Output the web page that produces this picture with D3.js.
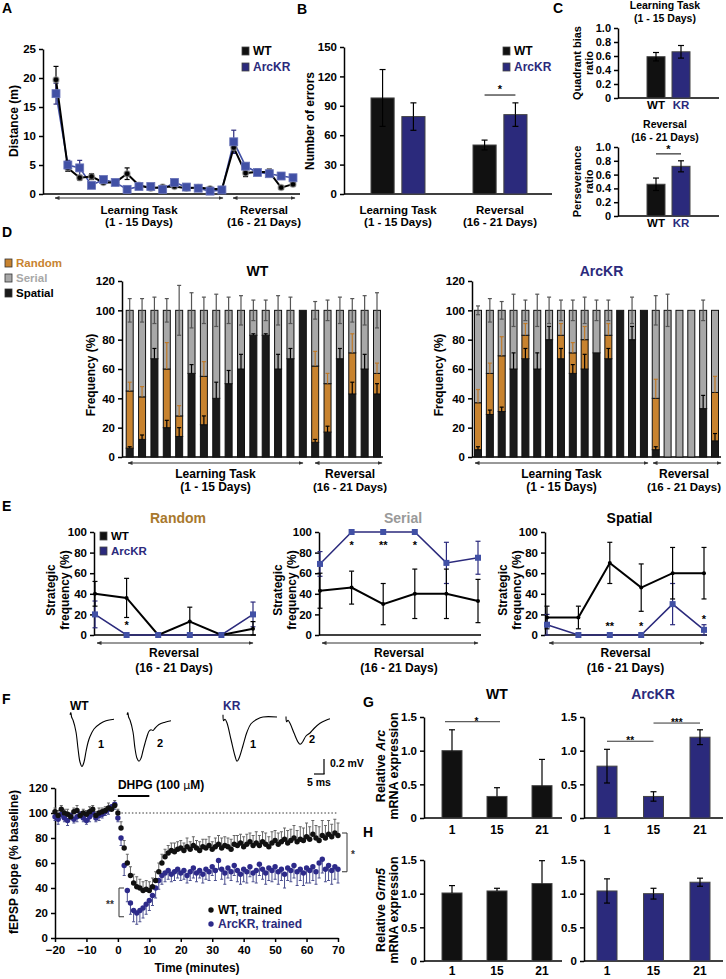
<!DOCTYPE html>
<html>
<head>
<meta charset="utf-8">
<script src="https://cdn.jsdelivr.net/npm/d3@7"></script>
<style>
  body { margin: 0; background: #fff; }
  text { font-family: "Liberation Sans", Arial, sans-serif; font-weight: bold; }
</style>
</head>
<body>
<svg id="fig" width="726" height="979"></svg>
<script>
// ---------- data ----------
const days = [1,2,3,4,5,6,7,8,9,10,11,12,13,14,15,16,17,18,19,20,21];
const revDays = [16,17,18,19,20,21];

// A: distance (m)
const distWT    = [19.7,4.5,2.8,3.0,2.0,2.0,3.5,1.5,1.0,1.2,1.3,1.0,1.1,0.9,0.8,8.0,3.6,3.8,3.8,1.1,1.7];
const distWTErr = [2.3,0.6,0.4,0.5,0.3,0.3,1.0,0.3,0.2,0.2,0.3,0.2,0.2,0.2,0.2,1.0,0.6,0.5,0.5,0.3,0.3];
const distKR    = [17.3,5.0,4.5,1.5,2.5,2.0,0.8,1.3,1.3,0.8,2.0,1.2,1.0,0.5,0.7,9.0,4.8,3.7,3.5,3.1,2.8];
const distKRErr = [1.8,0.8,1.3,0.3,0.4,0.3,0.2,0.3,0.3,0.2,0.5,0.3,0.2,0.2,0.2,2.0,0.5,0.5,0.4,0.4,0.4];

// B: number of errors
const phases = ["Learning Task", "Reversal"];
const errorsWT = [98, 50], errorsWTErr = [29, 5];
const errorsKR = [79, 81], errorsKRErr = [14, 12];

// C: ratios
const genotypes = ["WT", "KR"];
const quadrantBias = [0.59, 0.66], quadrantBiasErr = [0.06, 0.09];
const perseverance = [0.46, 0.72], perseveranceErr = [0.09, 0.08];

// D: strategy frequency (%) per day
const spatialWT    = [6,12,67,20,14,57,22,40,50,60,83,83,60,67,100,10,17,67,43,60,43];
const randomWT     = [39,29,0,40,14,0,33,0,0,0,0,0,0,0,0,52,33,0,28,0,14];
const serialWT     = [55,59,33,40,72,43,45,60,50,40,17,17,40,33,0,38,50,33,29,40,43];
const spatialWTErr = [1,3,7,5,6,6,6,11,9,10,1,1,10,7,0,2,4,7,8,10,7];
const randomWTErr  = [6,7,0,18,7,0,10,0,0,0,0,0,0,0,0,10,7,0,13,0,7];
const serialWTErr  = [8,8,9,8,17,12,9,11,9,10,7,7,10,9,0,6,7,9,8,10,12];
const spatialKR    = [5,29,31,60,67,60,80,67,57,60,71,67,100,80,100,5,0,0,0,33,11];
const randomKR     = [32,28,38,0,16,0,0,16,14,20,0,16,0,0,0,35,0,0,0,0,33];
const serialKR     = [63,43,31,40,17,40,20,17,29,20,29,17,0,20,0,60,100,100,100,67,56];
const spatialKRErr = [2,3,3,11,7,11,9,7,6,10,0,7,0,9,0,2,0,0,0,9,5];
const randomKRErr  = [9,7,13,0,8,0,0,8,7,9,0,8,0,0,0,13,0,0,0,0,11];
const serialKRErr  = [3,8,6,11,7,11,9,7,7,9,7,7,0,9,0,10,11,0,0,7,0];

// E: strategic frequency during reversal
const randWT = [40,36,0,13,0,6],      randWTErr = [12,19,0,14,0,7];
const randKR = [20,0,0,0,0,20],       randKRErr = [13,0,0,0,0,12];
const serWT  = [43,46,30,40,40,33],   serWTErr  = [17,16,20,24,24,21];
const serKR  = [69,100,100,100,70,75],serKRErr  = [12,0,0,0,20,16];
const spaWT  = [17,17,70,46,60,60],   spaWTErr  = [11,11,20,23,25,25];
const spaKR  = [10,0,0,0,30,5],       spaKRErr  = [10,0,0,0,20,5];
const randStars = [{day:17, s:"*", v:12}];
const serStars  = [{day:17, s:"*", v:89}, {day:18, s:"**", v:89}, {day:19, s:"*", v:89}];
const spaStars  = [{day:18, s:"**", v:11}, {day:19, s:"*", v:11}, {day:21, s:"*", v:17}];

// F: fEPSP slope (% baseline) per minute
const fTime = [-20,-19,-18,-17,-16,-15,-14,-13,-12,-11,-10,-9,-8,-7,-6,-5,-4,-3,-2,-1,
  0,1,2,3,4,5,6,7,8,9,10,11,12,13,14,15,16,17,18,19,20,21,22,23,24,25,26,27,28,29,30,
  31,32,33,34,35,36,37,38,39,40,41,42,43,44,45,46,47,48,49,50,51,52,53,54,55,56,57,58,59,60,
  61,62,63,64,65,66,67,68,69,70];
const fWT = [101,98,103,100,99,97,101,102,98,100,99,101,103,98,100,101,102,104,103,106,
  100,88,72,60,50,44,41,40,38,39,38,
  41,46,53,60,65,68,70,69,71,72,
  70,73,71,74,72,70,73,72,74,71,
  73,75,72,74,73,71,75,74,76,73,
  75,77,74,76,74,77,75,73,76,78,
  75,77,79,76,78,80,77,79,78,81,
  79,83,80,78,82,80,83,81,84,82];
const fWTErr = [3,4,3,3,4,3,3,4,3,3,3,4,3,3,4,3,3,4,3,4,
  3,5,6,7,7,7,8,7,7,7,7,
  7,7,7,7,6,6,6,7,6,6,
  6,7,6,7,6,7,6,7,7,6,
  7,7,8,7,7,8,7,8,7,8,
  8,7,8,9,8,8,9,8,9,8,
  9,8,9,10,9,10,9,10,10,11,
  10,11,10,11,12,10,11,10,11,10];
const fKR = [97,95,99,96,94,98,95,97,99,96,94,97,100,96,98,99,101,103,105,107,
  96,80,58,38,28,22,20,22,24,27,30,
  34,40,46,50,52,54,51,53,55,52,
  54,50,53,56,52,54,51,55,53,57,
  54,62,55,52,56,53,58,54,51,55,
  53,57,52,54,59,55,52,56,54,57,
  53,55,51,56,54,58,53,55,52,56,
  54,57,53,60,63,55,58,54,57,55];
const fKRErr = [3,4,3,3,4,3,3,4,3,3,3,4,3,3,4,3,3,4,3,4,
  3,6,8,9,9,9,9,9,8,8,8,
  8,8,7,7,7,7,6,7,7,6,
  7,6,7,8,7,6,7,8,7,7,
  8,7,8,9,8,7,8,9,8,10,
  9,8,7,10,9,8,9,10,9,10,
  10,9,11,10,9,10,11,9,10,12,
  10,11,10,12,11,10,12,11,10,11];

// F: example traces (ms, mV)
const traceWT1 = [[0,0.03],[0.4,0.06],[0.8,0.0],[1.5,-0.04],[3,-0.2],[4,-0.42],[5,-0.6],[6,-0.66],[7,-0.6],[8,-0.46],[9,-0.34],[10,-0.26],[12,-0.16],[15,-0.09],[18,-0.05],[22,-0.03]];
const traceWT2 = [[0,0.03],[0.4,0.06],[0.8,0.0],[1.5,-0.04],[3,-0.2],[4,-0.42],[5,-0.55],[6,-0.59],[7,-0.55],[8,-0.45],[9,-0.35],[10,-0.26],[11,-0.19],[12,-0.17],[13,-0.18],[14,-0.15],[16,-0.1],[19,-0.07],[22,-0.05]];
const traceKR1 = [[0,0.03],[0.3,-0.05],[1,-0.03],[2,-0.08],[4,-0.3],[6,-0.52],[7,-0.59],[8,-0.55],[10,-0.38],[12,-0.2],[14,-0.09],[17,-0.03],[20,0.0],[27,0.0]];
const traceKR2 = [[0,0.02],[0.3,-0.05],[1,-0.03],[2,-0.07],[4,-0.2],[6,-0.32],[7,-0.35],[8,-0.33],[10,-0.24],[12,-0.2],[14,-0.14],[17,-0.07],[20,-0.03],[22,-0.01]];

// G/H: relative mRNA expression at day 1, 15, 21
const exprDays = ["1", "15", "21"];
const arcWT = [1.0, 0.32, 0.48],  arcWTErr = [0.31, 0.13, 0.39];
const arcKR = [0.77, 0.32, 1.20], arcKRErr = [0.25, 0.07, 0.11];
const grmWT = [1.01, 1.04, 1.15], grmWTErr = [0.11, 0.04, 0.34];
const grmKR = [1.04, 1.00, 1.17], grmKRErr = [0.18, 0.08, 0.06];

// ---------- helpers ----------
const svg = d3.select("#fig");
const BLUE = "#2b2a7c", BLUE_L = "#4150a5", ORANGE = "#c8832f", GRAY = "#a8a8a8";

const defs = svg.append("defs");
defs.append("marker").attr("id", "ah").attr("viewBox", "0 0 10 10")
  .attr("refX", 9).attr("refY", 5).attr("markerWidth", 5).attr("markerHeight", 5)
  .attr("orient", "auto-start-reverse")
  .append("path").attr("d", "M0,1L10,5L0,9z").attr("fill", "#333");

function text(x, y, s, size = 11, color = "#000", anchor = "start", weight = "bold") {
  return svg.append("text").attr("x", x).attr("y", y).attr("font-size", size)
    .attr("fill", color).attr("text-anchor", anchor).attr("font-weight", weight).text(s);
}
function vtext(x, y, s, size = 11, color = "#000") {
  return svg.append("text").attr("transform", `translate(${x},${y}) rotate(-90)`)
    .attr("text-anchor", "middle").attr("font-size", size).attr("fill", color).text(s);
}
function line(x1, y1, x2, y2, color = "#000", w = 1.5) {
  return svg.append("line").attr("x1", x1).attr("y1", y1).attr("x2", x2).attr("y2", y2)
    .attr("stroke", color).attr("stroke-width", w);
}
function arrow(x1, x2, y) {
  line(x1, y, x2, y, "#333", 1).attr("marker-start", "url(#ah)").attr("marker-end", "url(#ah)");
}
function errBar(x, y0, y1, color = "#000", cap = 3, w = 1.2) {
  if (Math.abs(y1 - y0) < 0.5) return;
  line(x, y0, x, y1, color, w);
  line(x - cap, y1, x + cap, y1, color, w);
}
function leftAxis(x, scale, ticks, fmt, size = 11) {
  const g = svg.append("g").attr("transform", `translate(${x},0)`)
    .call(d3.axisLeft(scale).tickValues(ticks).tickFormat(fmt).tickSizeInner(4).tickSizeOuter(0).tickPadding(3));
  g.attr("font-size", size).attr("font-family", null);
  g.select(".domain").attr("stroke-width", 1.5);
  g.selectAll(".tick line").attr("stroke-width", 1.5);
  g.selectAll(".tick text").attr("fill", "#000");
  return g;
}
function legendSquare(x, y, color, label, labelColor, size = 12) {
  svg.append("rect").attr("x", x).attr("y", y - 8).attr("width", 7).attr("height", 8)
    .attr("fill", color).attr("stroke", "#444").attr("stroke-width", 0.8);
  text(x + 11, y, label, size, labelColor);
}

// ---------- panel letters ----------
[["A",2,13],["B",297,14],["C",553,13],["D",2,237],["E",2,511],["F",2,704],["G",363,707],["H",363,837]]
  .forEach(([s, x, y]) => text(x, y, s, 14));

// ---------- A ----------
{
  const x = d3.scalePoint().domain(days).range([56, 293]);
  const y = d3.scaleLinear().domain([0, 25]).range([194, 49]);
  leftAxis(43, y, [0,5,10,15,20,25], d3.format("d"), 11.5);
  line(43, y(0), 300, y(0));
  vtext(18, 121, "Distance (m)", 12);

  days.forEach((d, i) => {
    errBar(x(d), y(distWT[i]), y(distWT[i] + distWTErr[i]), "#000", 2.5);
    errBar(x(d), y(distWT[i]), y(distWT[i] - distWTErr[i]), "#000", 2.5);
    errBar(x(d), y(distKR[i]), y(distKR[i] + distKRErr[i]), BLUE, 2.5);
    errBar(x(d), y(distKR[i]), y(distKR[i] - distKRErr[i]), BLUE, 2.5);
  });
  const ln = d3.line().x((v, i) => x(days[i])).y(v => y(v));
  svg.append("path").attr("d", ln(distKR)).attr("fill", "none").attr("stroke", BLUE_L).attr("stroke-width", 1.6);
  svg.append("path").attr("d", ln(distWT)).attr("fill", "none").attr("stroke", "#000").attr("stroke-width", 2);
  svg.append("g").selectAll("circle").data(distWT).join("circle")
    .attr("cx", (v, i) => x(days[i])).attr("cy", v => y(v)).attr("r", 3)
    .attr("fill", "#000").attr("stroke", "#999").attr("stroke-width", 1.5).attr("stroke-opacity", 0.6);
  svg.append("g").selectAll("rect").data(distKR).join("rect")
    .attr("x", (v, i) => x(days[i]) - 4).attr("y", v => y(v) - 4).attr("width", 8).attr("height", 8)
    .attr("fill", BLUE_L).attr("stroke", "#6a74b8").attr("stroke-width", 0.8);

  arrow(55, 223, 198);
  arrow(233, 295, 198);
  text(139, 214, "Learning Task", 11.5, "#000", "middle");
  text(139, 226, "(1 - 15 Days)", 11.5, "#000", "middle");
  text(264, 214, "Reversal", 11.5, "#000", "middle");
  text(264, 226, "(16 - 21 Days)", 11.5, "#000", "middle");
  legendSquare(242, 55, "#111", "WT", "#000");
  legendSquare(242, 71, BLUE, "ArcKR", BLUE);
}

// ---------- B ----------
{
  const x = d3.scaleBand().domain(phases).range([347, 551]);
  const xs = d3.scaleBand().domain(genotypes).range([-27, 27]).paddingInner(0.25);
  const y = d3.scaleLinear().domain([0, 150]).range([194, 47]);
  leftAxis(344, y, [0,30,60,90,120,150], d3.format("d"), 11.5);
  line(344, y(0), 552, y(0));
  vtext(314, 121, "Number of errors", 12);
  const cx = (p, g) => x(p) + x.bandwidth() / 2 + xs(g);
  phases.forEach((p, i) => {
    [["WT", errorsWT, errorsWTErr, "#111"], ["KR", errorsKR, errorsKRErr, BLUE]].forEach(([g, v, e, c]) => {
      const bx = cx(p, g);
      svg.append("rect").attr("x", bx).attr("y", y(v[i])).attr("width", xs.bandwidth())
        .attr("height", y(0) - y(v[i])).attr("fill", c).attr("stroke", "#444").attr("stroke-width", 1);
      errBar(bx + xs.bandwidth() / 2, y(v[i]), y(v[i] + e[i]), "#000", 3);
      errBar(bx + xs.bandwidth() / 2, y(v[i]), y(v[i] - e[i]), "#000", 3);
    });
  });
  const c1 = cx("Reversal", "WT") + xs.bandwidth() / 2, c2 = cx("Reversal", "KR") + xs.bandwidth() / 2;
  line(c1, y(101), c2, y(101), "#000", 1);
  text((c1 + c2) / 2, y(108) + 5, "*", 11, "#000", "middle");
  text(398, 214, "Learning Task", 11.5, "#000", "middle");
  text(398, 226, "(1 - 15 Days)", 11.5, "#000", "middle");
  text(500, 214, "Reversal", 11.5, "#000", "middle");
  text(500, 226, "(16 - 21 Days)", 11.5, "#000", "middle");
  legendSquare(503, 55, "#111", "WT", "#000");
  legendSquare(503, 71, BLUE, "ArcKR", BLUE);
}

// ---------- C ----------
function ratioChart(top, bottom, vals, errs, title1, title2, yl1, sig) {
  const x = d3.scalePoint().domain(genotypes).range([656, 681]);
  const y = d3.scaleLinear().domain([0, 1]).range([bottom, top]);
  leftAxis(618, y, [0,0.2,0.4,0.6,0.8,1.0], d => d === 0 ? "0" : d.toFixed(1), 11);
  line(618, y(0), 719, y(0));
  genotypes.forEach((g, i) => {
    const c = g === "WT" ? "#111" : BLUE;
    svg.append("rect").attr("x", x(g) - 9).attr("y", y(vals[i])).attr("width", 18)
      .attr("height", y(0) - y(vals[i])).attr("fill", c).attr("stroke", "#444").attr("stroke-width", 1);
    errBar(x(g), y(vals[i]), y(vals[i] + errs[i]), "#000", 3);
    errBar(x(g), y(vals[i]), y(vals[i] - errs[i]), "#000", 3);
    text(x(g), bottom + 11, g, 11.5, g === "WT" ? "#000" : BLUE, "middle");
  });
  text(665, top - 19, title1, 10.5, "#000", "middle");
  text(665, top - 6, title2, 10.5, "#000", "middle");
  vtext(581, (top + bottom) / 2, yl1, 11, "#000").attr("font-weight", "normal");
  vtext(593, (top + bottom) / 2, "ratio", 11, "#000").attr("font-weight", "normal");
  if (sig) {
    line(x("WT"), y(0.9), x("KR"), y(0.9), "#000", 1);
    text((x("WT") + x("KR")) / 2, y(0.98) + 5, "*", 11, "#000", "middle");
  }
}
ratioChart(28, 98, quadrantBias, quadrantBiasErr, "Learning Task", "(1 - 15 Days)", "Quadrant bias", false);
ratioChart(147, 216, perseverance, perseveranceErr, "Reversal", "(16 - 21 Days)", "Perseverance", true);

// ---------- D ----------
function freqChart(axisX, x0, x1, spatial, random, serial, sE, rE, seE, title, titleColor, ylx, arrows, revX) {
  const x = d3.scalePoint().domain(days).range([x0, x1]);
  const y = d3.scaleLinear().domain([0, 120]).range([457, 281]);
  leftAxis(axisX, y, [0,20,40,60,80,100,120], d3.format("d"), 11.5);
  line(axisX, y(0), x1 + 6, y(0));
  vtext(ylx, 375, "Frequency (%)", 12);
  text((axisX + x1) / 2 + 8, 276, title, 14, titleColor, "middle");
  const bw = 7;
  days.forEach((d, i) => {
    const segs = [[0, spatial[i], "#1a1a1a"], [spatial[i], spatial[i] + random[i], ORANGE],
                  [spatial[i] + random[i], spatial[i] + random[i] + serial[i], GRAY]];
    segs.forEach(([a, b, c]) => {
      if (b - a <= 0) return;
      svg.append("rect").attr("x", x(d) - bw / 2).attr("y", y(b)).attr("width", bw)
        .attr("height", y(a) - y(b)).attr("fill", c).attr("stroke", "#111").attr("stroke-width", 1);
    });
    const cx = x(d);
    if (serial[i] > 0) {
      errBar(cx, y(100), y(100 + seE[i]), "#555", 2, 1.2);
      errBar(cx, y(100), y(100 - seE[i]), "#555", 2, 1.2);
    }
    if (random[i] > 0) errBar(cx, y(spatial[i] + random[i]), y(spatial[i] + random[i] + rE[i]), "#c07a28", 2, 1.2);
    if (spatial[i] > 0 && spatial[i] < 100) errBar(cx, y(spatial[i]), y(spatial[i] + sE[i]), "#000", 2, 1.2);
  });
  arrow(arrows[0], arrows[1], 463);
  arrow(arrows[2], arrows[3], 463);
  text((arrows[0] + arrows[1]) / 2, 478, "Learning Task", 12, "#000", "middle");
  text((arrows[0] + arrows[1]) / 2, 491, "(1 - 15 Days)", 12, "#000", "middle");
  text(revX, 478, "Reversal", 12, "#000", "middle");
  text(revX, 491, "(16 - 21 Days)", 11.5, "#000", "middle");
}
freqChart(122, 129.7, 377, spatialWT, randomWT, serialWT, spatialWTErr, randomWTErr, serialWTErr,
  "WT", "#000", 95, [128, 303, 315, 382], 350);
freqChart(472, 478, 715, spatialKR, randomKR, serialKR, spatialKRErr, randomKRErr, serialKRErr,
  "ArcKR", BLUE, 443, [475, 648, 653, 721], 684);
[["Random", ORANGE, 267], ["Serial", GRAY, 282], ["Spatial", "#000", 297]].forEach(([s, c, yy]) => {
  svg.append("rect").attr("x", 5).attr("y", yy - 8).attr("width", 7).attr("height", 8)
    .attr("fill", c === "#000" ? "#1a1a1a" : c).attr("stroke", "#333").attr("stroke-width", 0.8);
  text(16, yy, s, 11.5, c);
});

// ---------- E ----------
function stratChart(axisX, x0, x1, title, titleColor, wt, wtE, kr, krE, stars, ylx) {
  const x = d3.scalePoint().domain(revDays).range([x0, x1]);
  const y = d3.scaleLinear().domain([0, 100]).range([635, 532]);
  leftAxis(axisX, y, [0,20,40,60,80,100], d3.format("d"), 11.5);
  line(axisX, y(0), x1 + 3, y(0));
  text((x0 + x1) / 2 + 4, 523, title, 14, titleColor, "middle");
  vtext(ylx, 590, "Strategic", 12);
  vtext(ylx + 14, 590, "frequency (%)", 12);
  revDays.forEach((d, i) => {
    errBar(x(d), y(kr[i]), y(Math.min(100, kr[i] + krE[i])), BLUE, 2.5);
    errBar(x(d), y(kr[i]), y(Math.max(0, kr[i] - krE[i])), BLUE, 2.5);
  });
  revDays.forEach((d, i) => {
    errBar(x(d), y(wt[i]), y(wt[i] + wtE[i]), "#000", 2.5);
    errBar(x(d), y(wt[i]), y(Math.max(0, wt[i] - wtE[i])), "#000", 2.5);
  });
  const ln = d3.line().x((v, i) => x(revDays[i])).y(v => y(v));
  svg.append("path").attr("d", ln(kr)).attr("fill", "none").attr("stroke", BLUE).attr("stroke-width", 1.5);
  svg.append("path").attr("d", ln(wt)).attr("fill", "none").attr("stroke", "#000").attr("stroke-width", 2);
  svg.append("g").selectAll("circle").data(wt).join("circle")
    .attr("cx", (v, i) => x(revDays[i])).attr("cy", v => y(v)).attr("r", 2).attr("fill", "#000");
  svg.append("g").selectAll("rect").data(kr).join("rect")
    .attr("x", (v, i) => x(revDays[i]) - 3).attr("y", v => y(v) - 3).attr("width", 6).attr("height", 6)
    .attr("fill", BLUE_L);
  stars.forEach(s => text(x(s.day), y(s.v) + 6, s.s, 11, "#000", "middle"));
  arrow(x0 + 2, x1, 643);
  text((x0 + x1) / 2, 657, "Reversal", 12, "#000", "middle");
  text((x0 + x1) / 2, 672, "(16 - 21 Days)", 12, "#000", "middle");
}
stratChart(94, 95, 253, "Random", "#a8782c", randWT, randWTErr, randKR, randKRErr, randStars, 55);
stratChart(319, 320, 478, "Serial", "#999", serWT, serWTErr, serKR, serKRErr, serStars, 282);
stratChart(545, 547, 704, "Spatial", "#000", spaWT, spaWTErr, spaKR, spaKRErr, spaStars, 507);
legendSquare(100, 540, "#111", "WT", "#000", 11.5);
legendSquare(100, 555, BLUE, "ArcKR", BLUE, 11.5);

// ---------- F ----------
{
  const x = d3.scaleLinear().domain([-20, 70]).range([55, 338]);
  const y = d3.scaleLinear().domain([0, 120]).range([938, 788]);
  leftAxis(55, y, [0,20,40,60,80,100,120], d3.format("d"), 11.5);
  const gx = svg.append("g").attr("transform", `translate(0,${y(0)})`)
    .call(d3.axisBottom(x).tickValues([-20,-10,0,10,20,30,40,50,60,70]).tickSizeInner(4).tickSizeOuter(0).tickPadding(4));
  gx.attr("font-size", 11.5).attr("font-family", null);
  gx.select(".domain").attr("stroke-width", 1.5);
  gx.selectAll(".tick line").attr("stroke-width", 1.5);
  gx.selectAll(".tick text").attr("fill", "#000");
  text(197, 972, "Time (minutes)", 12, "#000", "middle");
  vtext(18, 862, "fEPSP slope (% baseline)", 12);

  line(x(0), y(100), x(70), y(100), "#333", 1).attr("stroke-dasharray", "1.5,2");
  line(x(0), 796, x(10), 796, "#000", 2);
  const dh = text(x(0), 789, "DHPG (100 ", 12);
  dh.append("tspan").attr("font-family", "'DejaVu Sans'").attr("font-size", 11).attr("font-weight", "normal").text("μ");
  dh.append("tspan").text("M)");

  fTime.forEach((t, i) => {
    errBar(x(t), y(fKR[i]), y(fKR[i] - fKRErr[i]), "#4b4f8f", 1.5, 1);
    errBar(x(t), y(fWT[i]), y(fWT[i] + fWTErr[i]), "#666", 1.5, 1);
  });
  svg.append("g").selectAll("circle").data(fKR).join("circle")
    .attr("cx", (v, i) => x(fTime[i])).attr("cy", v => y(v)).attr("r", 2.7).attr("fill", "#2d2a8a");
  svg.append("g").selectAll("circle").data(fWT).join("circle")
    .attr("cx", (v, i) => x(fTime[i])).attr("cy", v => y(v)).attr("r", 2.7).attr("fill", "#111");

  // brackets
  line(347, y(84), 347, y(53), "#333", 1);
  line(342, y(84), 347, y(84), "#333", 1);
  line(342, y(53), 347, y(53), "#333", 1);
  text(351, y(68) + 5, "*", 10, "#333", "start", "normal");
  line(119, y(40), 119, y(17), "#333", 1);
  line(119, y(40), 124, y(40), "#333", 1);
  line(119, y(17), 124, y(17), "#333", 1);
  text(110, y(28) + 5, "**", 10, "#333", "middle", "normal");

  svg.append("circle").attr("cx", 211).attr("cy", 910).attr("r", 2.7).attr("fill", "#111");
  text(218, 914, "WT, trained", 12);
  svg.append("circle").attr("cx", 211).attr("cy", 924).attr("r", 2.7).attr("fill", "#2d2a8a");
  text(218, 928, "ArcKR, trained", 12, BLUE);

  // traces
  const tx = d3.scaleLinear().domain([0, 1]).range([0, 2]);     // 2 px per ms
  const ty = d3.scaleLinear().domain([0, 1]).range([0, -75]);   // 75 px per mV
  const tl = d3.line().x(d => tx(d[0])).y(d => ty(d[1])).curve(d3.curveCatmullRom.alpha(0.5));
  [[traceWT1, 70, 717], [traceWT2, 127, 717], [traceKR1, 223, 717], [traceKR2, 286, 718]].forEach(([tr, ox, oy]) => {
    svg.append("path").attr("transform", `translate(${ox},${oy})`).attr("d", tl(tr))
      .attr("fill", "none").attr("stroke", "#000").attr("stroke-width", 1.1);
  });
  text(70, 710, "WT", 12);
  text(223, 710, "KR", 12, BLUE);
  text(98, 748, "1", 11); text(157, 747, "2", 11);
  text(250, 748, "1", 11); text(309, 743, "2", 11);
  line(324, 759, 324, 774, "#000", 1.2);
  line(314, 774, 324.6, 774, "#000", 1.2);
  text(330, 767, "0.2 mV", 10.5);
  text(319, 786, "5 ms", 10.5, "#000", "middle");
}

// ---------- G / H ----------
function exprChart(axisX, centers, endX, top, bottom, vals, errs, color, bothErr, sigs, labelDy) {
  const x = d3.scalePoint().domain(exprDays).range(centers);
  const y = d3.scaleLinear().domain([0, 1.5]).range([bottom, top]);
  leftAxis(axisX, y, [0, 0.5, 1.0, 1.5], d => d === 0 ? "0" : d.toFixed(1), 11.5);
  line(axisX, y(0), endX, y(0));
  exprDays.forEach((d, i) => {
    svg.append("rect").attr("x", x(d) - 10).attr("y", y(vals[i])).attr("width", 20)
      .attr("height", y(0) - y(vals[i])).attr("fill", color).attr("stroke", "#444").attr("stroke-width", 1);
    errBar(x(d), y(vals[i]), y(vals[i] + errs[i]), "#000", 3);
    if (bothErr) errBar(x(d), y(vals[i]), y(vals[i] - errs[i]), "#000", 3);
    text(x(d), bottom + labelDy, d, 12, "#000", "middle");
  });
  sigs.forEach(s => {
    line(x(s.a) + (s.dx0 || 0), y(s.v), x(s.b) + (s.dx1 || 0), y(s.v), "#333", 1);
    text((x(s.a) + x(s.b)) / 2 + (s.dxs || 0), y(s.v) + 3, s.s, 10, "#000", "middle", "normal");
  });
}
exprChart(424, [452, 542], 562, 717, 818, arcWT, arcWTErr, "#111", false,
  [{a:"1", b:"15", v:1.43, s:"*", dx0:-7, dx1:3, dxs:2}], 16);
exprChart(584, [607, 700], 723, 717, 818, arcKR, arcKRErr, BLUE, true,
  [{a:"1", b:"15", v:1.14, s:"**"}, {a:"15", b:"21", v:1.41, s:"***"}], 16);
exprChart(424, [452, 542], 562, 860, 961, grmWT, grmWTErr, "#111", false, [], 14);
exprChart(584, [607, 700], 723, 860, 961, grmKR, grmKRErr, BLUE, true, [], 14);
text(497, 699, "WT", 14, "#000", "middle");
text(653, 699, "ArcKR", 14, BLUE, "middle");
function exprLabel(y, gene) {
  const t = vtext(385, y, "Relative ", 12.5);
  t.append("tspan").attr("font-style", "italic").text(gene);
  vtext(398, y, "mRNA expression", 12.5);
}
exprLabel(766, "Arc");
exprLabel(910, "Grm5");
</script>
</body>
</html>
